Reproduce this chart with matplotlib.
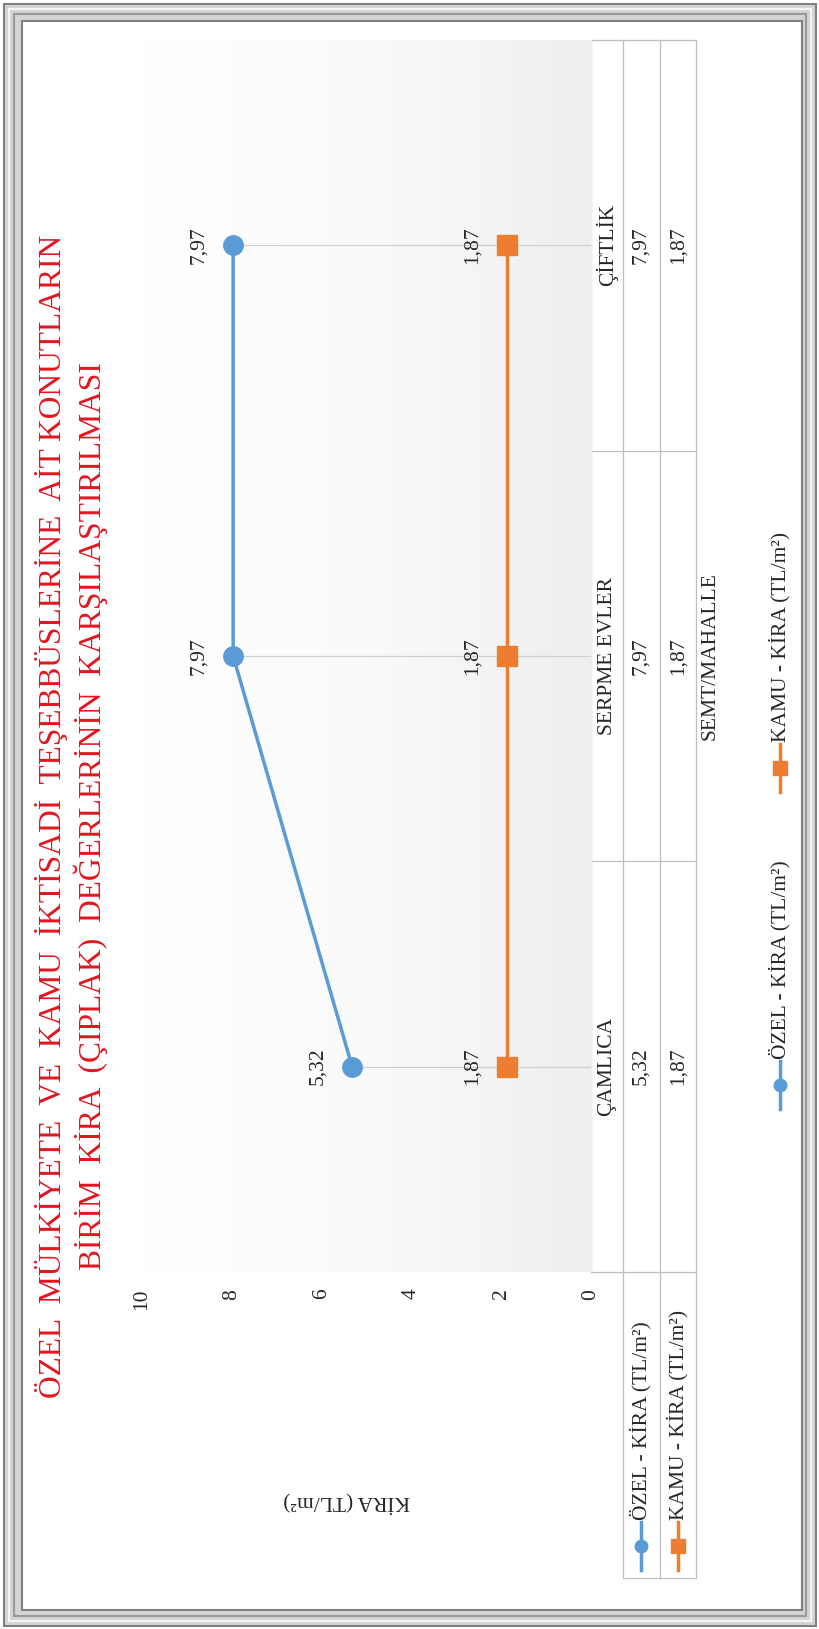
import matplotlib
matplotlib.use('Agg')
import matplotlib.pyplot as plt
import numpy as np
from matplotlib.patches import Rectangle
from matplotlib.colors import LinearSegmentedColormap
from matplotlib.transforms import blended_transform_factory

# ---------------- DATA ----------------
categories = ["ÇAMLICA", "SERPME EVLER", "ÇİFTLİK"]
ozel_kira = [5.32, 7.97, 7.97]
kamu_kira = [1.87, 1.87, 1.87]
series_names = ["ÖZEL - KİRA (TL/m²)", "KAMU - KİRA (TL/m²)"]
value_ticks = [0, 2, 4, 6, 8, 10]
title_lines = ["ÖZEL  MÜLKİYETE  VE  KAMU  İKTİSADİ  TEŞEBBÜSLERİNE  AİT KONUTLARIN",
               "BİRİM  KİRA  (ÇIPLAK)  DEĞERLERİNİN  KARŞILAŞTIRILMASI"]
value_axis_title = "KİRA (TL/m²)"
category_axis_title = "SEMT/MAHALLE"

# ---------------- STYLE ----------------
plt.rcParams['font.family'] = ['Liberation Serif', 'DejaVu Serif']
BLUE = '#5B9BD5'
ORANGE = '#ED7D31'
RED = '#E3151F'
GRID = '#D0D0D0'
TXT = '#262626'
FS = 15.5


def fmt(v):
    return f"{v:.2f}".replace('.', ',')


W, H = 819, 1629
fig = plt.figure(figsize=(W / 100, H / 100), dpi=100)

# overlay in pixel coordinates (frame, titles, table, legend)
ov = fig.add_axes([0, 0, 1, 1], zorder=0)
ov.set_xlim(0, W)
ov.set_ylim(H, 0)
ov.axis('off')

# double frame
ov.add_patch(Rectangle((4, 4), 812, 1622, facecolor='#D4D4D4', edgecolor='#808080', lw=1.5))
ov.add_patch(Rectangle((9, 9), 802, 1612, fill=False, edgecolor='#F4F4F4', lw=1.5))
ov.add_patch(Rectangle((14, 14), 792, 1602, fill=False, edgecolor='#9A9A9A', lw=1.5))
ov.add_patch(Rectangle((22, 21), 780, 1589, facecolor='white', edgecolor='#808080', lw=1.5))

# plot area: value axis runs right (0) -> left (10), categories bottom -> top
left, right, top, bottom = 142, 591, 40, 1272
ax = fig.add_axes([left / W, 1 - bottom / H, (right - left) / W, (bottom - top) / H], zorder=1)
ax.patch.set_alpha(0)

grad = LinearSegmentedColormap.from_list('g', ['#FFFFFF', '#FAFAFA', '#EEEEEE'])
ax.imshow(np.linspace(0, 1, 256)[None, :], extent=(10, 0, -0.5, 2.5),
          aspect='auto', cmap=grad, zorder=0)

ypos = np.arange(len(categories))

# drop lines
for i in ypos:
    ax.plot([max(ozel_kira[i], kamu_kira[i]), 0], [i, i], color=GRID, lw=0.9, zorder=1)

ax.plot(ozel_kira, ypos, color=BLUE, lw=2.5, marker='o', ms=14, zorder=3)
ax.plot(kamu_kira, ypos, color=ORANGE, lw=2.5, marker='s', ms=14.5, zorder=3)

for i in ypos:
    for v in (ozel_kira[i], kamu_kira[i]):
        ax.annotate(fmt(v), (v, i), xytext=(-25, 0), textcoords='offset points',
                    rotation=90, ha='center', va='center', fontsize=FS, color=TXT)

ax.set_xlim(10, 0)
ax.set_ylim(-0.5, 2.5)
ax.set_xticks(value_ticks)
ax.set_xticklabels([str(t) for t in value_ticks], rotation=90, fontsize=FS, color=TXT)
ax.tick_params(axis='x', length=0, pad=12)
ax.set_yticks([])
for s in ax.spines.values():
    s.set_visible(False)

# axis titles
ov.text(347, 1502, value_axis_title, rotation=180, ha='center', va='center',
        fontsize=FS, color=TXT)
bt_axes = blended_transform_factory(ov.transData, ax.transAxes)
ov.text(710, 0.5, category_axis_title, transform=bt_axes, rotation=90,
        ha='center', va='center', fontsize=FS, color=TXT)

# title
ov.text(52, 816, title_lines[0], rotation=90, ha='center', va='center',
        fontsize=22.7, color=RED)
ov.text(91, 816, title_lines[1], rotation=90, ha='center', va='center',
        fontsize=22.7, color=RED)

# ---------------- DATA TABLE ----------------
bt = blended_transform_factory(ov.transData, ax.transData)
tcol = '#BFBFBF'
row_x = [591, 623, 660, 696]
for x in row_x:
    ov.plot([x, x], [-0.5, 2.5], color=tcol, lw=0.9, transform=bt)
for b in np.arange(len(categories) + 1) - 0.5:
    ov.plot([591, 696], [b, b], color=tcol, lw=0.9, transform=bt)
# row header box
for x in row_x[1:]:
    ov.plot([x, x], [bottom, 1578], color=tcol, lw=0.9)
ov.plot([623, 696], [1578, 1578], color=tcol, lw=0.9)

for i, cat in enumerate(categories):
    ov.text(607, i, cat, transform=bt, rotation=90, ha='center', va='center',
            fontsize=FS, color=TXT)
    ov.text(641, i, fmt(ozel_kira[i]), transform=bt, rotation=90, ha='center',
            va='center', fontsize=FS, color=TXT)
    ov.text(678, i, fmt(kamu_kira[i]), transform=bt, rotation=90, ha='center',
            va='center', fontsize=FS, color=TXT)


def key(x, yc, color, marker, ms):
    ov.plot([x, x], [yc - 24, yc + 24], color=color, lw=2.5)
    ov.plot([x], [yc], color=color, marker=marker, ms=ms)


for x, name, color, marker, ms in zip([641, 678], series_names, [BLUE, ORANGE],
                                      ['o', 's'], [9, 10]):
    key(x, 1546, color, marker, ms)
    ov.text(x, 1520, name, rotation=90, rotation_mode='anchor', ha='left',
            va='center', fontsize=FS, color=TXT)

# ---------------- LEGEND ----------------
for yc, name, color, marker, ms in zip([1085, 768], series_names, [BLUE, ORANGE],
                                       ['o', 's'], [9, 10]):
    key(780, yc, color, marker, ms)
    ov.text(780, yc - 26, name, rotation=90, rotation_mode='anchor', ha='left',
            va='center', fontsize=FS, color=TXT)

plt.savefig("out.png", dpi=100)
plt.close()
